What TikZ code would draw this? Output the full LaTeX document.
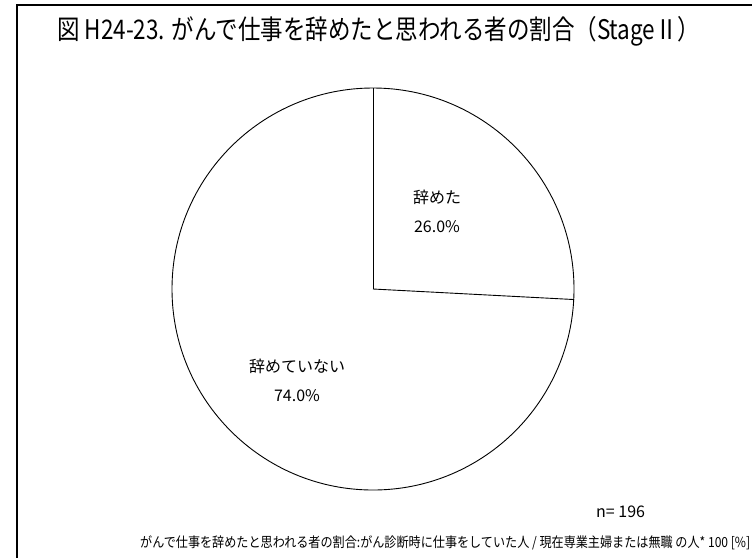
\documentclass[tikz,border=0pt]{standalone}
\usepackage{fontspec}
\setmainfont{Noto Sans CJK JP}
\begin{document}
\begin{tikzpicture}[x=1pt,y=1pt,
  lbl/.style={font=\fontsize{16}{29}\selectfont, align=center, inner sep=0pt},
  frameline/.style={line width=2pt}]
\useasboundingbox (0,0) rectangle (752,-558);
\fill[white] (0,0) rectangle (752,-558);
% frame
\coordinate (ftl) at (17,-5);
\coordinate (ftr) at (752,-5);
\coordinate (fbl) at (17,-558);
\draw[frameline] (ftr) -- (ftl) -- (fbl);
% title
\node[anchor=west, inner sep=0pt] (title) at (57,-31)
  {\resizebox{643pt}{!}{\scalebox{1}[1.2]{\fontsize{22}{26}\selectfont 図 H24-23. がんで仕事を辞めたと思われる者の割合（StageⅡ）}}};
% pie
\coordinate (c) at (373,-289);
\node[circle, draw, line width=0.9pt, minimum size=402pt, inner sep=0pt] (pie) at (c) {};
\draw[line width=0.9pt] (c) -- (pie.north);
\draw[line width=0.9pt] (c) -- (pie.-3.6);
% labels
\node[lbl] (l1) at (437,-211) {辞めた\\26.0\%};
\node[lbl] (l2) at (297,-380) {辞めていない\\74.0\%};
\node[anchor=west, inner sep=0pt, font=\fontsize{16}{18}\selectfont] (n) at (596,-512) {n= 196};
% footnote
\node[anchor=west, inner sep=0pt] (foot) at (140,-543)
  {\resizebox{610pt}{!}{\scalebox{1}[1.15]{\fontsize{12}{14}\selectfont がんで仕事を辞めたと思われる者の割合:がん診断時に仕事をしていた人 / 現在専業主婦または無職 の人* 100 [\%]}}};
\end{tikzpicture}
\end{document}
